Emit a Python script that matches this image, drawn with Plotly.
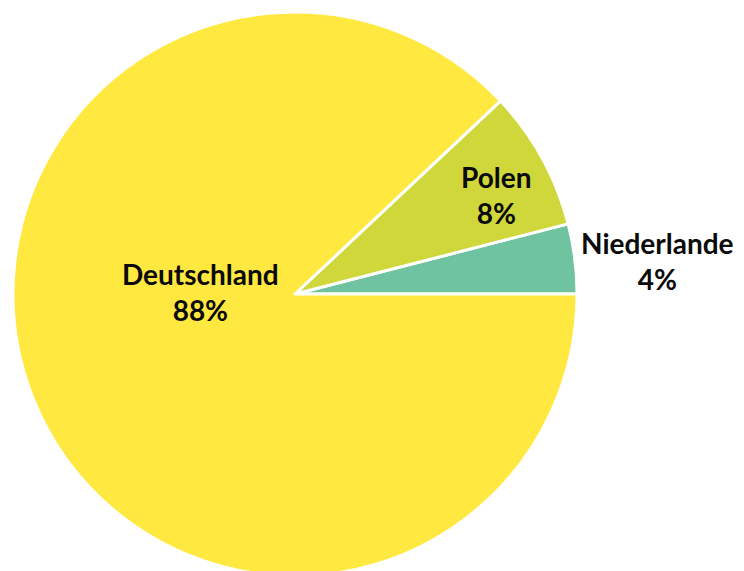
import plotly.graph_objects as go

labels = ["Niederlande", "Polen", "Deutschland"]
values = [4, 8, 88]
colors = ["#6FC3A0", "#CFD73A", "#FFE83F"]

total = sum(values)
percents = [round(100 * v / total) for v in values]

# label anchor positions in paper fractions (layout only)
label_pos = [(649 / 744, 1 - 253 / 571), (488 / 744, 1 - 187 / 571), (192 / 744, 1 - 284 / 571)]

fig = go.Figure(go.Pie(
    labels=labels,
    values=values,
    sort=False,
    direction="counterclockwise",
    rotation=90 - 360 * values[0] / total,
    marker=dict(colors=colors, line=dict(color="white", width=3)),
    textinfo="none",
    showlegend=False,
    hoverinfo="skip",
    domain=dict(x=[5 / 744, 569 / 744], y=[3 / 571, 567 / 571]),
))

for lab, pct, (px, py) in zip(labels, percents, label_pos):
    fig.add_annotation(
        text=f"<b>{lab}<br>{pct}%</b>",
        x=px, y=py, xref="paper", yref="paper",
        xanchor="center", yanchor="middle",
        showarrow=False, font=dict(family="Lato", size=28, color="#0a0a0a"),
        align="center",
    )

fig.update_layout(
    width=744, height=571,
    margin=dict(l=0, r=0, t=0, b=0),
    paper_bgcolor="white",
    plot_bgcolor="white",
)

fig.write_html("out.html")
